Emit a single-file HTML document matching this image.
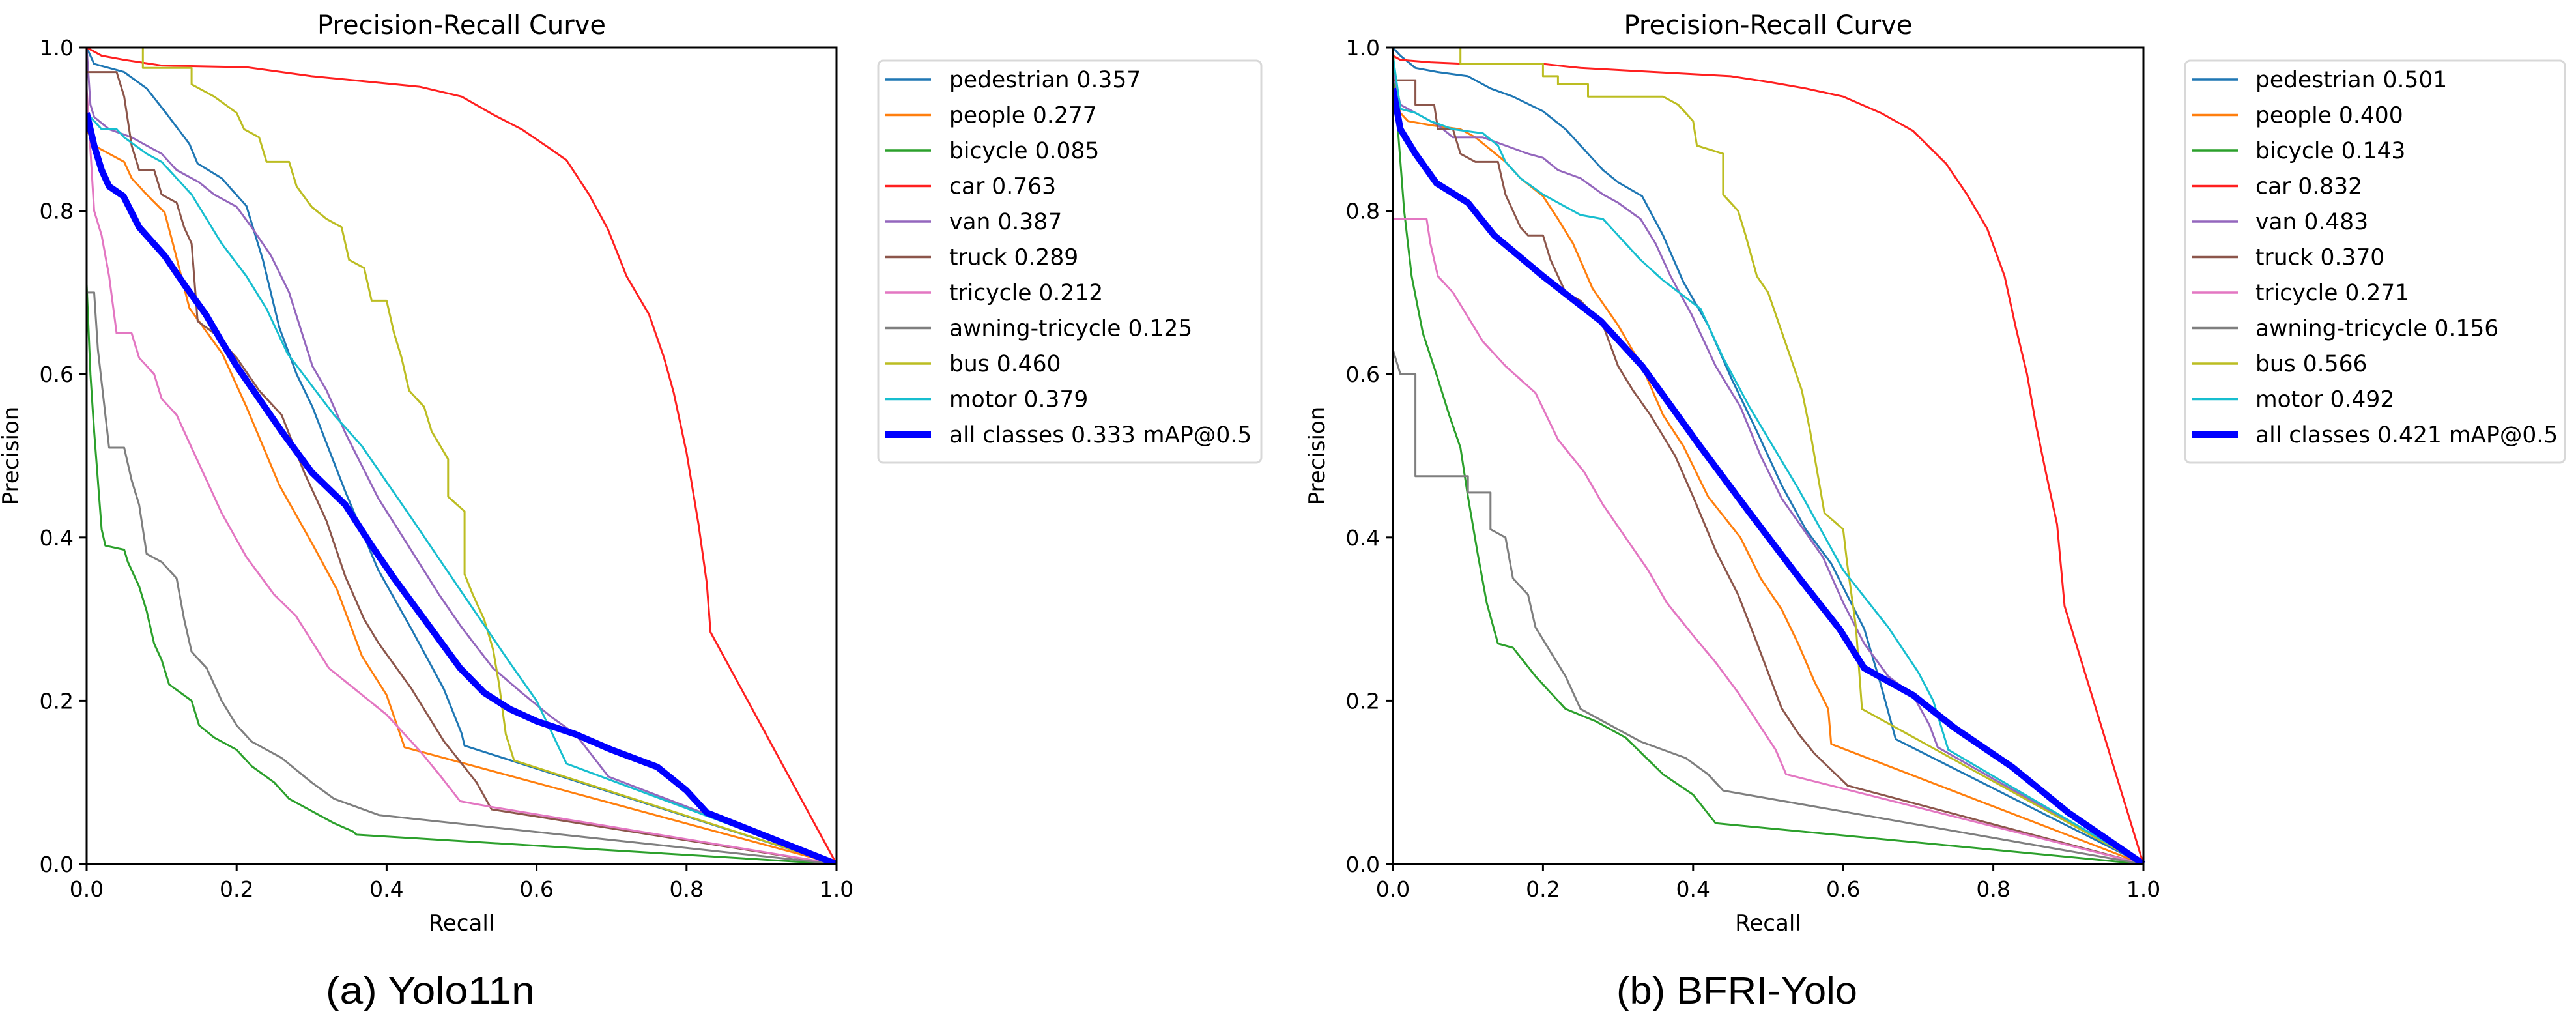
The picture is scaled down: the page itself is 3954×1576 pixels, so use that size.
<!DOCTYPE html>
<html><head><meta charset="utf-8"><style>
html,body{margin:0;padding:0;background:#fff;}
svg{display:block;font-family:"DejaVu Sans","Liberation Sans",sans-serif;}
</style></head><body>
<svg id="fig" width="3954" height="1576" viewBox="0 0 3954 1576" xmlns="http://www.w3.org/2000/svg"></svg>
<script>
const classNames = ["pedestrian","people","bicycle","car","van","truck","tricycle","awning-tricycle","bus","motor","all classes"];
const colors = ["#1f77b4","#ff7f0e","#2ca02c","#ff2020","#9467bd","#8c564b","#e377c2","#7f7f7f","#bcbd22","#17becf","#0000ff"];
const apA = ["0.357","0.277","0.085","0.763","0.387","0.289","0.212","0.125","0.460","0.379","0.333 mAP@0.5"];
const apB = ["0.501","0.400","0.143","0.832","0.483","0.370","0.271","0.156","0.566","0.492","0.421 mAP@0.5"];
const tickValues = [0,0.2,0.4,0.6,0.8,1.0];
const tickLabels = ["0.0","0.2","0.4","0.6","0.8","1.0"];

const pedA=[[0,1],[0.01,0.98],[0.05,0.97],[0.08,0.95],[0.104,0.922],[0.137,0.882],[0.148,0.858],[0.18,0.84],[0.213,0.806],[0.235,0.74],[0.257,0.657],[0.28,0.6],[0.301,0.56],[0.345,0.456],[0.389,0.36],[0.433,0.288],[0.476,0.215],[0.5,0.16],[0.504,0.145],[1,0]];
const peoA=[[0,0.9],[0.01,0.88],[0.03,0.87],[0.05,0.86],[0.06,0.84],[0.08,0.82],[0.104,0.798],[0.115,0.76],[0.137,0.681],[0.181,0.625],[0.213,0.56],[0.257,0.464],[0.301,0.392],[0.334,0.336],[0.367,0.255],[0.4,0.207],[0.424,0.143],[1,0]];
const bicA=[[0,0.71],[0.005,0.6],[0.01,0.53],[0.02,0.41],[0.025,0.39],[0.05,0.385],[0.055,0.37],[0.07,0.34],[0.08,0.31],[0.09,0.27],[0.1,0.25],[0.11,0.22],[0.14,0.2],[0.15,0.17],[0.17,0.155],[0.2,0.14],[0.22,0.12],[0.25,0.1],[0.27,0.08],[0.3,0.065],[0.33,0.05],[0.355,0.04],[0.36,0.036],[1,0]];
const carA=[[0,1],[0.02,0.99],[0.05,0.985],[0.1,0.978],[0.213,0.976],[0.3,0.965],[0.378,0.958],[0.444,0.952],[0.5,0.94],[0.542,0.918],[0.58,0.9],[0.62,0.875],[0.64,0.862],[0.67,0.82],[0.695,0.778],[0.72,0.72],[0.75,0.673],[0.77,0.62],[0.783,0.577],[0.8,0.504],[0.816,0.416],[0.827,0.344],[0.832,0.284],[1,0]];
const vanA=[[0,1],[0.005,0.93],[0.01,0.915],[0.03,0.9],[0.06,0.89],[0.08,0.88],[0.1,0.87],[0.12,0.85],[0.15,0.835],[0.17,0.82],[0.2,0.805],[0.22,0.78],[0.246,0.745],[0.27,0.7],[0.301,0.61],[0.32,0.58],[0.345,0.528],[0.389,0.448],[0.433,0.384],[0.47,0.33],[0.5,0.29],[0.542,0.24],[0.58,0.21],[0.62,0.18],[0.652,0.159],[0.696,0.107],[1,0]];
const truA=[[0,0.97],[0.04,0.97],[0.05,0.94],[0.06,0.88],[0.07,0.85],[0.09,0.85],[0.1,0.82],[0.12,0.81],[0.13,0.78],[0.14,0.76],[0.148,0.665],[0.17,0.65],[0.2,0.62],[0.23,0.58],[0.26,0.55],[0.29,0.48],[0.32,0.42],[0.345,0.352],[0.37,0.3],[0.389,0.271],[0.433,0.215],[0.476,0.151],[0.52,0.1],[0.54,0.067],[1,0]];
const triA=[[0,0.95],[0.01,0.8],[0.02,0.77],[0.03,0.72],[0.04,0.65],[0.06,0.65],[0.07,0.62],[0.09,0.6],[0.1,0.57],[0.12,0.55],[0.14,0.51],[0.16,0.47],[0.18,0.43],[0.213,0.376],[0.25,0.33],[0.279,0.304],[0.323,0.24],[0.35,0.22],[0.4,0.183],[0.444,0.139],[0.47,0.11],[0.498,0.077],[0.54,0.07],[1,0]];
const awnA=[[0,0.7],[0.01,0.7],[0.015,0.63],[0.03,0.51],[0.05,0.51],[0.06,0.47],[0.07,0.44],[0.08,0.38],[0.1,0.37],[0.12,0.35],[0.13,0.3],[0.14,0.26],[0.16,0.24],[0.18,0.2],[0.2,0.17],[0.22,0.15],[0.24,0.14],[0.26,0.13],[0.3,0.1],[0.33,0.08],[0.36,0.07],[0.39,0.06],[1,0]];
const busA=[[0.075,1],[0.075,0.975],[0.14,0.975],[0.14,0.955],[0.17,0.94],[0.2,0.92],[0.21,0.9],[0.23,0.89],[0.24,0.86],[0.27,0.86],[0.28,0.83],[0.3,0.805],[0.32,0.79],[0.34,0.78],[0.35,0.74],[0.37,0.73],[0.38,0.69],[0.4,0.69],[0.41,0.65],[0.42,0.62],[0.43,0.58],[0.45,0.56],[0.46,0.53],[0.482,0.496],[0.482,0.45],[0.504,0.432],[0.504,0.355],[0.515,0.33],[0.53,0.3],[0.542,0.263],[0.55,0.22],[0.559,0.159],[0.57,0.127],[1,0]];
const motA=[[0,0.92],[0.01,0.91],[0.02,0.9],[0.04,0.9],[0.05,0.89],[0.08,0.87],[0.1,0.86],[0.12,0.84],[0.14,0.82],[0.16,0.79],[0.18,0.76],[0.213,0.72],[0.24,0.68],[0.268,0.625],[0.301,0.585],[0.33,0.55],[0.367,0.512],[0.433,0.424],[0.498,0.336],[0.564,0.247],[0.6,0.2],[0.64,0.123],[1,0]];
const allA=[[0,0.92],[0.01,0.88],[0.02,0.85],[0.03,0.83],[0.049,0.818],[0.07,0.78],[0.104,0.745],[0.13,0.71],[0.159,0.673],[0.18,0.64],[0.2,0.61],[0.23,0.57],[0.26,0.53],[0.3,0.48],[0.345,0.44],[0.38,0.39],[0.41,0.35],[0.45,0.3],[0.498,0.24],[0.53,0.21],[0.564,0.19],[0.6,0.175],[0.652,0.159],[0.7,0.14],[0.761,0.119],[0.8,0.09],[0.827,0.063],[1,0]];

const pedB=[[0,1],[0.01,0.99],[0.03,0.975],[0.06,0.97],[0.1,0.965],[0.13,0.95],[0.16,0.94],[0.2,0.922],[0.23,0.9],[0.26,0.87],[0.28,0.85],[0.3,0.835],[0.332,0.818],[0.36,0.77],[0.387,0.713],[0.42,0.66],[0.452,0.593],[0.485,0.53],[0.518,0.464],[0.55,0.41],[0.584,0.368],[0.628,0.288],[0.65,0.22],[0.67,0.153],[1,0]];
const peoB=[[0,0.97],[0.01,0.92],[0.02,0.91],[0.05,0.905],[0.09,0.9],[0.11,0.89],[0.13,0.875],[0.15,0.86],[0.17,0.84],[0.2,0.818],[0.22,0.79],[0.24,0.76],[0.266,0.705],[0.3,0.66],[0.332,0.609],[0.36,0.55],[0.387,0.512],[0.42,0.45],[0.463,0.4],[0.49,0.35],[0.518,0.312],[0.54,0.27],[0.562,0.223],[0.58,0.19],[0.584,0.147],[1,0]];
const bicB=[[0,1],[0.005,0.92],[0.015,0.8],[0.025,0.72],[0.04,0.65],[0.058,0.6],[0.075,0.55],[0.09,0.51],[0.1,0.45],[0.113,0.38],[0.125,0.32],[0.14,0.27],[0.16,0.265],[0.19,0.23],[0.23,0.19],[0.27,0.175],[0.31,0.155],[0.36,0.11],[0.4,0.085],[0.43,0.05],[1,0]];
const carB=[[0,0.99],[0.01,0.985],[0.05,0.982],[0.1,0.98],[0.2,0.98],[0.25,0.975],[0.35,0.97],[0.45,0.965],[0.5,0.958],[0.55,0.95],[0.6,0.94],[0.65,0.92],[0.693,0.898],[0.737,0.858],[0.765,0.82],[0.792,0.778],[0.815,0.72],[0.83,0.657],[0.845,0.6],[0.857,0.537],[0.87,0.48],[0.885,0.416],[0.895,0.316],[1,0]];
const vanB=[[0,0.97],[0.01,0.93],[0.03,0.92],[0.06,0.905],[0.08,0.89],[0.12,0.89],[0.15,0.88],[0.18,0.87],[0.2,0.865],[0.22,0.85],[0.25,0.84],[0.28,0.82],[0.3,0.81],[0.33,0.79],[0.35,0.76],[0.37,0.72],[0.398,0.673],[0.43,0.61],[0.463,0.56],[0.49,0.5],[0.518,0.448],[0.573,0.376],[0.6,0.32],[0.628,0.27],[0.66,0.23],[0.693,0.207],[0.715,0.17],[0.726,0.143],[1,0]];
const truB=[[0,0.96],[0.03,0.96],[0.03,0.93],[0.055,0.93],[0.06,0.9],[0.08,0.9],[0.09,0.87],[0.11,0.86],[0.14,0.86],[0.15,0.82],[0.17,0.78],[0.18,0.77],[0.2,0.77],[0.21,0.74],[0.23,0.7],[0.25,0.69],[0.28,0.66],[0.3,0.61],[0.32,0.58],[0.343,0.55],[0.376,0.5],[0.4,0.45],[0.43,0.384],[0.46,0.33],[0.485,0.271],[0.518,0.191],[0.54,0.16],[0.562,0.135],[0.606,0.096],[1,0]];
const triB=[[0,0.79],[0.045,0.79],[0.05,0.76],[0.06,0.72],[0.08,0.7],[0.1,0.67],[0.12,0.64],[0.15,0.61],[0.19,0.577],[0.22,0.52],[0.255,0.48],[0.28,0.44],[0.31,0.4],[0.34,0.36],[0.365,0.32],[0.4,0.28],[0.43,0.247],[0.46,0.21],[0.485,0.175],[0.51,0.14],[0.524,0.11],[1,0]];
const awnB=[[0,0.63],[0.01,0.6],[0.03,0.6],[0.03,0.475],[0.1,0.475],[0.1,0.455],[0.13,0.455],[0.13,0.41],[0.15,0.4],[0.16,0.35],[0.18,0.33],[0.19,0.29],[0.21,0.26],[0.23,0.23],[0.25,0.19],[0.27,0.18],[0.3,0.165],[0.33,0.15],[0.36,0.14],[0.39,0.13],[0.42,0.11],[0.44,0.09],[1,0]];
const busB=[[0.09,1],[0.09,0.98],[0.2,0.98],[0.2,0.965],[0.22,0.965],[0.22,0.955],[0.26,0.955],[0.26,0.94],[0.36,0.94],[0.38,0.93],[0.4,0.91],[0.405,0.88],[0.44,0.87],[0.44,0.82],[0.46,0.8],[0.47,0.77],[0.485,0.72],[0.5,0.7],[0.53,0.62],[0.545,0.58],[0.556,0.53],[0.575,0.43],[0.6,0.41],[0.605,0.37],[0.617,0.29],[0.625,0.19],[1,0]];
const motB=[[0,0.99],[0.01,0.925],[0.03,0.92],[0.05,0.91],[0.08,0.9],[0.12,0.895],[0.14,0.88],[0.15,0.86],[0.17,0.84],[0.2,0.82],[0.22,0.81],[0.25,0.795],[0.28,0.79],[0.3,0.77],[0.33,0.74],[0.36,0.715],[0.41,0.68],[0.44,0.62],[0.475,0.56],[0.54,0.46],[0.6,0.36],[0.66,0.29],[0.7,0.235],[0.72,0.2],[0.74,0.14],[1,0]];
const allB=[[0,0.95],[0.01,0.9],[0.03,0.87],[0.058,0.834],[0.1,0.81],[0.135,0.77],[0.2,0.72],[0.277,0.665],[0.332,0.61],[0.409,0.512],[0.474,0.432],[0.54,0.352],[0.595,0.288],[0.628,0.24],[0.693,0.207],[0.748,0.167],[0.825,0.119],[0.9,0.063],[1,0]];

const seriesA=[pedA,peoA,bicA,carA,vanA,truA,triA,awnA,busA,motA,allA];
const seriesB=[pedB,peoB,bicB,carB,vanB,truB,triB,awnB,busB,motB,allB];

const NS="http://www.w3.org/2000/svg";
const svg=document.getElementById('fig');
function mk(tag,attrs,parent,text){const e=document.createElementNS(NS,tag);for(const k in attrs)e.setAttribute(k,attrs[k]);if(text!==undefined)e.textContent=text;(parent||svg).appendChild(e);return e;}

function panel(key,left,right,legL,legR,textX,lineX1,lineX2,series,aps,caption,capX,capW){
  const top=73,bottom=1326;
  const sx=v=>left+v*(right-left);
  const sy=v=>bottom-v*(bottom-top);
  const g=mk('g',{});
  
  
  const t=mk('text',{x:(left+right)/2,y:52,'text-anchor':'middle','font-size':40,fill:'#000'},g,'Precision-Recall Curve');
  
  
  const clipId='clip'+key;
  const defs=mk('defs',{},g);
  const cp=mk('clipPath',{id:clipId},defs);
  mk('rect',{x:left,y:top-6,width:right-left+6,height:bottom-top+6},cp);
  const plot=mk('g',{'clip-path':'url(#'+clipId+')'},g);
  
  
  series.forEach((pts,i)=>{
    const d=pts.map((p,j)=>(j?'L':'M')+sx(p[0]).toFixed(1)+','+sy(p[1]).toFixed(1)).join(' ');
    const last=i===series.length-1;
    const p=mk('path',{d:d,fill:'none',stroke:colors[i],'stroke-width':last?10:3,'stroke-linejoin':'round'},plot);
    
    
  });
  const frame=mk('rect',{x:left,y:top,width:right-left,height:bottom-top,fill:'none',stroke:'#000','stroke-width':3},g);
  
  
  tickValues.forEach((v,i)=>{
    mk('line',{x1:sx(v),x2:sx(v),y1:bottom,y2:bottom+11,stroke:'#000','stroke-width':3},g);
    const xt=mk('text',{x:sx(v),y:1376,'text-anchor':'middle','font-size':33,fill:'#000'},g,tickLabels[i]);
    
    
    mk('line',{x1:left-11,x2:left,y1:sy(v),y2:sy(v),stroke:'#000','stroke-width':3},g);
    const yt=mk('text',{x:left-20,y:sy(v)+12,'text-anchor':'end','font-size':33,fill:'#000'},g,tickLabels[i]);
    
    
  });
  const xl=mk('text',{x:(left+right)/2,y:1428,'text-anchor':'middle','font-size':34,fill:'#000'},g,'Recall');
  
  
  const ylx=left-105;
  const yl=mk('text',{x:ylx,y:(top+bottom)/2,'text-anchor':'middle','font-size':34,fill:'#000',transform:'rotate(-90 '+ylx+' '+((top+bottom)/2)+')'},g,'Precision');
  
  
  const leg=mk('g',{},g);
  
  
  mk('rect',{x:legL,y:93,width:legR-legL,height:617,rx:8,fill:'#fff',stroke:'#d8d8d8','stroke-width':3},leg);
  classNames.forEach((n,i)=>{
    const y=122+54.5*i;
    const e=mk('g',{},leg);
    
    
    mk('line',{x1:lineX1,x2:lineX2,y1:y,y2:y,stroke:colors[i],'stroke-width':i===10?10:3.5},e);
    mk('text',{x:textX,y:y+12,'font-size':34.5,fill:'#000'},e,n+' '+aps[i]);
  });
  const c=mk('text',{x:capX,y:1540,'font-size':58,fill:'#000','font-family':'"Liberation Sans",sans-serif',textLength:capW,lengthAdjust:'spacingAndGlyphs'},g,caption);
  
  
}
panel('a',133,1284,1348,1936,1457,1359,1429,seriesA,apA,'(a)   Yolo11n',500,321);
panel('b',2138,3290,3354,3937,3462,3365,3435,seriesB,apB,'(b)    BFRI-Yolo',2481,370);
</script>
</body></html>
